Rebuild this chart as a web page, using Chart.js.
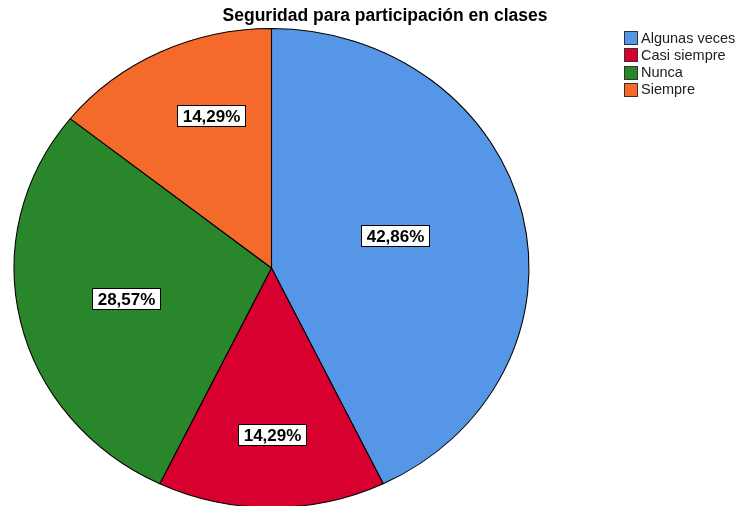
<!DOCTYPE html>
<html>
<head>
<meta charset="utf-8">
<script src="https://cdn.jsdelivr.net/npm/chart.js@4/dist/chart.umd.min.js"></script>
<style>
html,body{margin:0;padding:0;background:#fff;overflow:hidden;width:737px;height:506px;}
canvas{display:block;}
</style>
</head>
<body>
<canvas id="c" width="737" height="520"></canvas>
<script>
const chartTitle = 'Seguridad para participación en clases';
const categories = ['Algunas veces', 'Casi siempre', 'Nunca', 'Siempre'];
const percentValues = [42.86, 14.29, 28.57, 14.29];
const sliceColors = ['#5596E6', '#D7002F', '#2A862A', '#F46A2B'];

const X_STRETCH = 258 / 240;
const LABEL_FACTORS = [[0.493, 0.609], [0, 0.696], [0.58, 0.57], [0.545, 0.705]];

const ellipsePlugin = {
  id: 'ellipse',
  beforeDatasetsDraw(chart) {
    const el = chart.getDatasetMeta(0).data[0];
    const ctx = chart.ctx;
    ctx.save();
    ctx.translate(el.x, el.y);
    ctx.scale(X_STRETCH, 1);
    ctx.translate(-el.x, -el.y);
  },
  afterDatasetsDraw(chart) {
    chart.ctx.restore();
  }
};

const decorPlugin = {
  id: 'decor',
  afterDraw(chart) {
    const ctx = chart.ctx;
    const meta = chart.getDatasetMeta(0);
    const vals = chart.data.datasets[0].data;
    ctx.save();
    ctx.font = 'bold 17px "Liberation Sans", Arial, sans-serif';
    ctx.textAlign = 'center';
    ctx.textBaseline = 'middle';
    meta.data.forEach((el, i) => {
      const mid = (el.startAngle + el.endAngle) / 2;
      const r = el.outerRadius;
      const f = LABEL_FACTORS[i];
      const x = el.x + Math.cos(mid) * r * X_STRETCH * f[0];
      const y = el.y + Math.sin(mid) * r * f[1];
      const txt = vals[i].toFixed(2).replace('.', ',') + '%';
      const w = Math.round(ctx.measureText(txt).width + 10);
      const h = 21;
      const bx = Math.round(x - w / 2) + 0.5, by = Math.round(y - h / 2) + 0.5;
      ctx.fillStyle = '#ffffff';
      ctx.fillRect(bx, by, w, h);
      ctx.strokeStyle = '#000000';
      ctx.lineWidth = 1;
      ctx.strokeRect(bx, by, w, h);
      ctx.fillStyle = '#000000';
      ctx.fillText(txt, bx + w / 2, by + h / 2 + 1);
    });
    ctx.font = 'bold 17.5px "Liberation Sans", Arial, sans-serif';
    ctx.textAlign = 'center';
    ctx.textBaseline = 'alphabetic';
    ctx.fillStyle = '#000000';
    ctx.fillText(chartTitle, 385, 21);
    ctx.font = '14.5px "Liberation Sans", Arial, sans-serif';
    ctx.textAlign = 'left';
    ctx.textBaseline = 'middle';
    categories.forEach((c, i) => {
      const cy = 37.5 + i * 17.3;
      const top = Math.round(cy - 6.5) + 0.5;
      ctx.fillStyle = sliceColors[i];
      ctx.fillRect(624.5, top, 13, 13);
      ctx.strokeStyle = '#333333';
      ctx.lineWidth = 1;
      ctx.strokeRect(624.5, top, 13, 13);
      ctx.fillStyle = '#222222';
      ctx.fillText(c, 641, cy + 1);
    });
    ctx.restore();
  }
};

new Chart(document.getElementById('c'), {
  type: 'pie',
  data: {
    labels: categories,
    datasets: [{
      data: percentValues,
      backgroundColor: sliceColors,
      borderColor: '#000000',
      borderWidth: 1
    }]
  },
  options: {
    responsive: false,
    animation: false,
    events: [],
    layout: { padding: { left: 31.5, right: 225.5, top: 28, bottom: 12 } },
    plugins: {
      legend: { display: false },
      title: { display: false },
      tooltip: { enabled: false }
    }
  },
  plugins: [ellipsePlugin, decorPlugin]
});
</script>
</body>
</html>
